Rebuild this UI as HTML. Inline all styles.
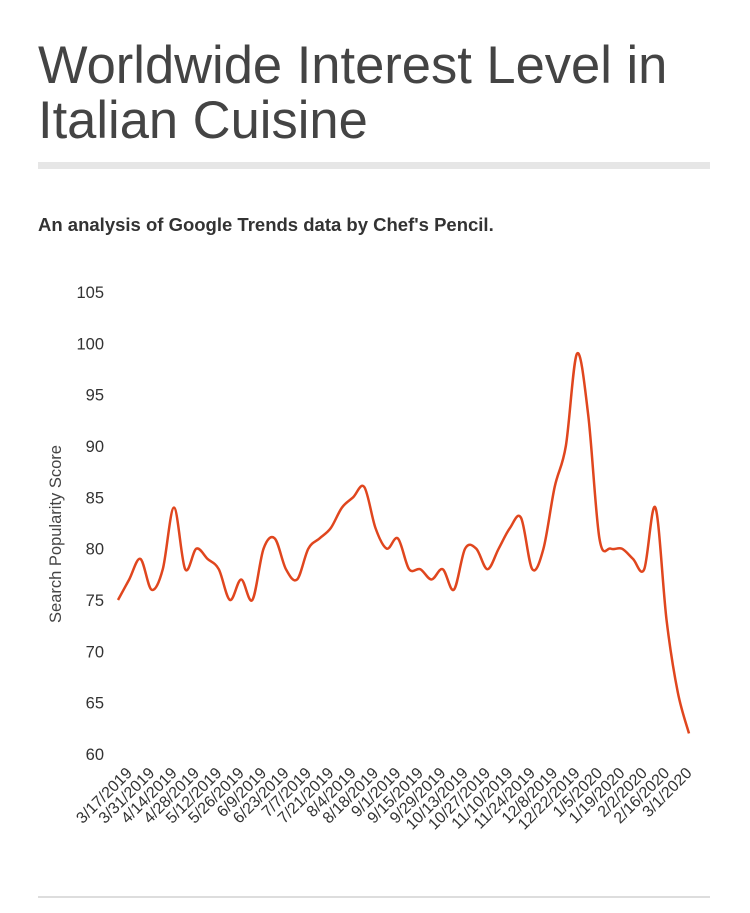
<!DOCTYPE html>
<html><head><meta charset="utf-8"><style>
body{margin:0;background:#fff;width:750px;height:913px;overflow:hidden;font-family:"Liberation Sans",sans-serif;position:relative}
h1{position:absolute;left:38px;top:38px;margin:0;font-weight:normal;font-size:52.5px;line-height:55px;color:#444;letter-spacing:0px}
.bar{position:absolute;left:38px;top:162px;width:672px;height:7px;background:#e6e6e6}
.sub{position:absolute;left:38px;top:214px;font-size:18.5px;font-weight:bold;color:#333}
.foot{position:absolute;left:38px;top:896px;width:672px;height:2px;background:#ddd}
svg{position:absolute;left:0;top:0}
</style></head><body>
<h1>Worldwide Interest Level in<br>Italian Cuisine</h1>
<div class="bar"></div>
<div class="sub">An analysis of Google Trends data by Chef's Pencil.</div>
<svg id="chart" width="750" height="913"></svg>
<div class="foot"></div>
<script>
const values=[75,77,79,76,78,84,78,80,79,78,75,77,75,80,81,78,77,80,81,82,84,85,86,82,80,81,78,78,77,78,76,80,80,78,80,82,83,78,80,86,90,99,93,81,80,80,79,78,84,73,66,62];
const xLabels=["3/17/2019","3/31/2019","4/14/2019","4/28/2019","5/12/2019","5/26/2019","6/9/2019","6/23/2019","7/7/2019","7/21/2019","8/4/2019","8/18/2019","9/1/2019","9/15/2019","9/29/2019","10/13/2019","10/27/2019","11/10/2019","11/24/2019","12/8/2019","12/22/2019","1/5/2020","1/19/2020","2/2/2020","2/16/2020","3/1/2020"];
const yTicks=[60,65,70,75,80,85,90,95,100,105];
const NS="http://www.w3.org/2000/svg";
const svg=document.getElementById('chart');
const x=i=>118+i*(571/(values.length-1));
const y=v=>754-(v-60)*(462/45);
function mk(t,a){const e=document.createElementNS(NS,t);for(const k in a)e.setAttribute(k,a[k]);svg.appendChild(e);return e;}
yTicks.forEach(t=>{
  const e=mk('text',{x:104,y:y(t)+6,'text-anchor':'end','font-size':16.5,fill:'#333','font-family':'Liberation Sans, sans-serif'});
  e.textContent=t;
  
  
});
const yt=mk('text',{x:0,y:0,transform:'translate(61,534) rotate(-90)','text-anchor':'middle','font-size':16.5,fill:'#444','font-family':'Liberation Sans, sans-serif'});
yt.textContent='Search Popularity Score';


xLabels.forEach((l,k)=>{
  const px=x(k*2)+15, py=774;
  const e=mk('text',{x:px,y:py,transform:`rotate(-45 ${px} ${py})`,'text-anchor':'end','font-size':16,fill:'#333','font-family':'Liberation Sans, sans-serif'});
  e.textContent=l;
  
  
});
const pts=values.map((v,i)=>[x(i),y(v)]);
let d=`M${pts[0][0]},${pts[0][1]}`;
for(let i=0;i<pts.length-1;i++){
  const p0=pts[Math.max(0,i-1)],p1=pts[i],p2=pts[i+1],p3=pts[Math.min(pts.length-1,i+2)];
  const c1=[p1[0]+(p2[0]-p0[0])/6,p1[1]+(p2[1]-p0[1])/6];
  const c2=[p2[0]-(p3[0]-p1[0])/6,p2[1]-(p3[1]-p1[1])/6];
  d+=` C${c1[0]},${c1[1]} ${c2[0]},${c2[1]} ${p2[0]},${p2[1]}`;
}
const line=mk('path',{d:d,fill:'none',stroke:'#e0461e','stroke-width':2.5,'stroke-linejoin':'round'});


</script>
</body></html>
